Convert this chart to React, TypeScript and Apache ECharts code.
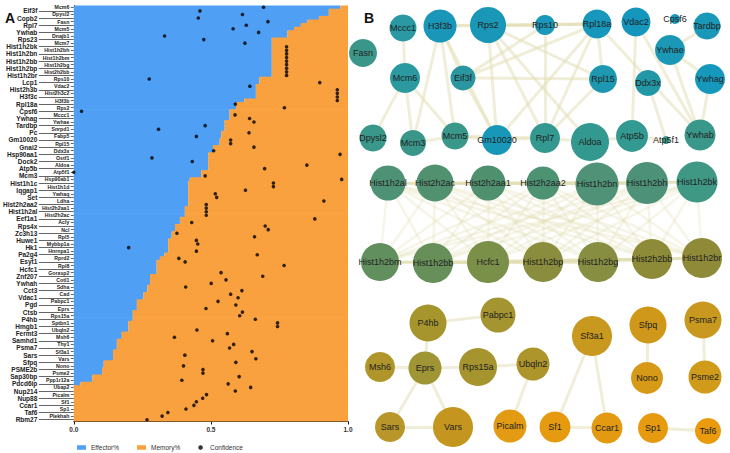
import React, { useEffect, useRef } from 'react';
import * as echarts from 'echarts';

// ---------- Panel A data ----------
// genes on the right label column (even rows, from top)
const rightColGenes = [
  'Mcm6', 'Dpysl2', 'Fasn', 'Mcm5', 'Dnajb1', 'Mcm7', 'Hist1h2bh', 'Hist1h2bm', 'Hist1h2bg', 'Hist2h2bb',
  'Rps10', 'Vdac2', 'Hist2h3c2', 'H3f3b', 'Rps2', 'Mccc1', 'Ywhae', 'Snrpd1', 'Fabp5', 'Rpl15',
  'Ddx3x', 'Ostf1', 'Aldoa', 'Atp5f1', 'Hsp90ab1', 'Hist1h1d', 'Ywhaq', 'Ldha', 'Hist2h2aa1', 'Hist2h2ac',
  'Acly', 'Ncl', 'Rpl5', 'Mybbp1a', 'Hnrnpa1', 'Rprd2', 'Rpl8', 'Gorasp2', 'Cotl1', 'Sdha',
  'Cad', 'Pabpc1', 'Eprs', 'Rps15a', 'Sptbn1', 'Ubqln2', 'Msh6', 'Thy1', 'Sf3a1', 'Vars',
  'Nono', 'Psme2', 'Ppp1r12a', 'Ubap2', 'Picalm', 'Sf1', 'Sp1', 'Plekhah',
];
// genes on the left label column (odd rows, from top)
const leftColGenes = [
  'Eif3f', 'Copb2', 'Rpl7', 'Ywhab', 'Rps23', 'Hist1h2bk', 'Hist1h2bn', 'Hist1h2bb', 'Hist1h2bp', 'Hist1h2br',
  'Lcp1', 'Hist2h3b', 'H3f3c', 'Rpl18a', 'Cpsf6', 'Ywhag', 'Tardbp', 'Pc', 'Gm10020', 'Gnai2',
  'Hsp90aa1', 'Dock2', 'Atp5b', 'Mcm3', 'Hist1h1c', 'Iqgap1', 'Set', 'Hist2h2aa2', 'Hist1h2al', 'Eef1a1',
  'Rps4x', 'Zc3h13', 'Huwe1', 'Hk1', 'Pa2g4', 'Esyt1', 'Hcfc1', 'Znf207', 'Ywhah', 'Cct3',
  'Vdac1', 'Pgd', 'Ctsb', 'P4hb', 'Hmgb1', 'Fermt3', 'Samhd1', 'Psma7', 'Sars', 'Sfpq',
  'PSME2b', 'Sap30bp', 'Pdcd6ip', 'Nup214', 'Nup88', 'Ccar1', 'Taf6', 'Rbm27',
];
// Effector share per row (top to bottom)
const effectorShare = [
  0.972, 0.93, 0.93, 0.894, 0.852, 0.828, 0.803, 0.779, 0.779, 0.722,
  0.722, 0.722, 0.722, 0.722, 0.722, 0.722, 0.722, 0.722, 0.722, 0.722,
  0.677, 0.677, 0.664, 0.664, 0.664, 0.664, 0.622, 0.592, 0.592, 0.568,
  0.568, 0.568, 0.55, 0.55, 0.55, 0.538, 0.538, 0.532, 0.532, 0.508,
  0.508, 0.49, 0.49, 0.49, 0.49, 0.49, 0.465, 0.465, 0.423, 0.417,
  0.417, 0.417, 0.417, 0.417, 0.417, 0.417, 0.405, 0.405, 0.405, 0.387,
  0.387, 0.369, 0.369, 0.357, 0.357, 0.344, 0.344, 0.344, 0.344, 0.33,
  0.314, 0.302, 0.302, 0.302, 0.302, 0.278, 0.278, 0.278, 0.268, 0.268,
  0.254, 0.254, 0.23, 0.23, 0.23, 0.215, 0.215, 0.215, 0.199, 0.199,
  0.199, 0.175, 0.175, 0.157, 0.157, 0.157, 0.143, 0.143, 0.143, 0.109,
  0.109, 0.103, 0.103, 0.067, 0.067, 0.024, 0, 0, 0, 0,
  0, 0, 0, 0, 0, 0,
];
// Confidence per row (top to bottom); null = no dot
const confidenceScore: (number | null)[] = [
  0.692, 0.46, 0.615, 0.454, 0.708, 0.629, 0.581, 0.674, 0.331, 0.474,
  0.624, 0.776, 0.776, 0.776, 0.776, 0.776, 0.776, 0.776, 0.776, 0.776,
  0.275, 0.897, 0.642, 0.961, 0.961, 0.961, 0.961, 0.589, 0.768, 0.028,
  0.588, 0.641, 0.657, 0.479, 0.309, 0.639, 0.447, 0.572, 0.572, 0.657,
  0.51, 0.971, 0.285, 0.432, 0.85, 0.696, 0.0, 0.479, 0.977, 0.728,
  0.728, 0.626, 0.516, 0.521, 0.912, 0.483, 0.483, 0.483, 0.483, 0.879,
  0.43, 0.698, 0.709, 0.376, 0.659, 0.447, 0.452, 0.2, 0.447, 0.669,
  0.383, 0.406, 0.767, null, 0.537, 0.689, 0.555, 0.501, 0.408, 0.613,
  0.572, 0.599, 0.526, 0.591, 0.482, 0.615, 0.605, 0.662, 0.743, 0.743,
  0.449, 0.56, 0.367, 0.506, 0.583, 0.568, 0.65, 0.405, 0.664, 0.591,
  0.4, 0.471, 0.471, 0.603, 0.394, 0.563, 0.645, 0.589, 0.484, 0.47,
  0.447, 0.438, 0.409, 0.343, 0.322, 0.267,
];

// ---------- Panel B data ----------
const nodeNames = [
  'Mccc1', 'H3f3b', 'Rps2', 'Rps10', 'Rpl18a', 'Vdac2', 'Cpsf6', 'Tardbp',
  'Fasn', 'Ywhae', 'Mcm6', 'Eif3f', 'Rpl15', 'Ddx3x', 'Ywhag',
  'Dpysl2', 'Mcm3', 'Mcm5', 'Gm10020', 'Rpl7', 'Aldoa', 'Atp5b', 'Atp5f1', 'Ywhab',
  'Hist1h2al', 'Hist2h2ac', 'Hist2h2aa1', 'Hist2h2aa2', 'Hist1h2bn', 'Hist1h2bh', 'Hist1h2bk',
  'Hist1h2bm', 'Hist1h2bb', 'Hcfc1', 'Hist1h2bp', 'Hist1h2bg', 'Hist2h2bb', 'Hist1h2br',
  'P4hb', 'Pabpc1', 'Sf3a1', 'Sfpq', 'Psma7',
  'Msh6', 'Eprs', 'Rps15a', 'Ubqln2', 'Nono', 'Psme2',
  'Sars', 'Vars', 'Picalm', 'Sf1', 'Ccar1', 'Sp1', 'Taf6',
];
const nodeX = [
  403, 440, 488, 545, 597, 636, 675, 707,
  363, 670, 405, 463, 603, 648, 710,
  373, 413, 455, 497, 545, 590, 632, 666, 700,
  388, 435, 488, 543, 597, 647, 697,
  380, 433, 488, 543, 598, 652, 702,
  428, 498, 592, 648, 703,
  380, 425, 478, 533, 647, 705,
  390, 453, 510, 555, 607, 653, 708,
];
const nodeY = [
  28, 26, 25, 25, 24, 22, 19, 26,
  53, 50, 78, 78, 79, 83, 79,
  138, 143, 136, 140, 138, 142, 136, 140, 135,
  183, 183, 183, 183, 184, 183, 182,
  262, 263, 262, 262, 262, 259, 258,
  323, 315, 336, 325, 320,
  367, 368, 367, 364, 378, 377,
  427, 427, 426, 427, 428, 428, 431,
];
const nodeSize = [
  27, 33, 36, 20, 29, 29, 10, 27,
  28, 30, 30, 25, 28, 26, 30,
  27, 26, 27, 30, 30, 38, 32, 8, 31,
  35, 37, 35, 33, 43, 42, 41,
  38, 40, 42, 40, 40, 40, 40,
  37, 35, 40, 37, 37,
  30, 33, 38, 33, 32, 33,
  30, 40, 33, 31, 31, 30, 26,
];
const nodeColor = [
  '#2a99a3', '#1a96b8', '#1a96b6', '#1a98bc', '#1797bb', '#1496bd', '#1a96b8', '#1a98b8',
  '#3a9689', '#1b98b6', '#2a99a0', '#2a97a0', '#1d98b0', '#2297a6', '#1598bc',
  '#399889', '#3a9689', '#3a988a', '#1897b8', '#339890', '#339890', '#329a90', '#3a988a', '#3a988a',
  '#4e9275', '#52916f', '#4f906f', '#4e9274', '#4f9277', '#4d9278', '#3f9884',
  '#628f5e', '#668f5a', '#7a8f48', '#8a8d3e', '#878e42', '#8e8b38', '#8f8a38',
  '#a5952c', '#a49531', '#c8981f', '#cf981a', '#c9981e',
  '#b0962a', '#a09534', '#a6942f', '#ad942b', '#d69918', '#d09a1b',
  '#b8962a', '#c5961f', '#e29b13', '#e69a10', '#e49a10', '#e69a10', '#ea9a0d',
];
const histoneNodes = [
  'Hist1h2al', 'Hist2h2ac', 'Hist2h2aa1', 'Hist2h2aa2', 'Hist1h2bn', 'Hist1h2bh', 'Hist1h2bk',
  'Hist1h2bm', 'Hist1h2bb', 'Hcfc1', 'Hist1h2bp', 'Hist1h2bg', 'Hist2h2bb', 'Hist1h2br',
];
const otherLinks: [string, string][] = [
  ['H3f3b', 'Rps2'], ['Rps2', 'Rps10'], ['Rps10', 'Rpl18a'], ['Rps2', 'Rpl18a'], ['H3f3b', 'Rpl18a'],
  ['H3f3b', 'Mcm5'], ['H3f3b', 'Mcm3'], ['H3f3b', 'Eif3f'], ['H3f3b', 'Gm10020'],
  ['Mccc1', 'Mcm6'], ['Mcm6', 'Dpysl2'], ['Mcm6', 'Mcm3'], ['Mcm6', 'Mcm5'], ['Mcm3', 'Mcm5'],
  ['Mcm5', 'Gm10020'], ['Eif3f', 'Gm10020'], ['Eif3f', 'Rpl15'], ['Eif3f', 'Rpl18a'], ['Eif3f', 'Rps10'],
  ['Rps2', 'Gm10020'], ['Rps2', 'Rpl7'], ['Rps2', 'Rpl15'], ['Rps2', 'Aldoa'], ['Rps10', 'Rpl7'],
  ['Rpl18a', 'Rpl15'], ['Rpl18a', 'Rpl7'], ['Rpl18a', 'Gm10020'], ['Rpl15', 'Rpl7'], ['Gm10020', 'Rpl7'],
  ['Rpl7', 'Aldoa'], ['Aldoa', 'Atp5b'], ['Vdac2', 'Atp5b'], ['Vdac2', 'Ywhab'], ['Atp5b', 'Atp5f1'],
  ['Ddx3x', 'Atp5f1'], ['Ywhae', 'Ywhag'], ['Ywhae', 'Ywhab'], ['Ywhag', 'Ywhab'], ['Tardbp', 'Ywhae'],
  ['Rpl18a', 'Ywhab'], ['Mcm5', 'Rpl7'],
  ['P4hb', 'Pabpc1'], ['P4hb', 'Eprs'], ['Msh6', 'Eprs'], ['Eprs', 'Rps15a'], ['Rps15a', 'Ubqln2'],
  ['Eprs', 'Sars'], ['Eprs', 'Vars'], ['Sars', 'Vars'], ['Ubqln2', 'Picalm'],
  ['Sf3a1', 'Sf1'], ['Sf3a1', 'Ccar1'], ['Sf1', 'Ccar1'], ['Sfpq', 'Nono'], ['Psma7', 'Psme2'], ['Sp1', 'Taf6'],
];

export default function App() {
  const ref = useRef<HTMLDivElement>(null);
  useEffect(() => {
    if (!ref.current) return;
    const chart = echarts.init(ref.current, null, { renderer: 'svg' });

    const genes: string[] = [];
    rightColGenes.forEach((g, k) => {
      genes.push(g);
      genes.push(leftColGenes[k]);
    });
    // Memory% is the complement of Effector% in each row
    const memoryShare = effectorShare.map((v) => +(1 - v).toFixed(3));
    const dots: [number, string][] = [];
    confidenceScore.forEach((v, i) => {
      if (v !== null) dots.push([v, genes[i]]);
    });

    const minX = Math.min(...nodeX);
    const maxX = Math.max(...nodeX);
    const minY = Math.min(...nodeY);
    const maxY = Math.max(...nodeY);

    const nodes = nodeNames.map((n, i) => ({
      name: n,
      x: nodeX[i],
      y: nodeY[i],
      symbolSize: nodeSize[i],
      itemStyle: { color: nodeColor[i] },
    }));
    const links: any[] = [];
    for (let a = 0; a < histoneNodes.length; a++) {
      for (let b = a + 1; b < histoneNodes.length; b++) {
        links.push({
          source: histoneNodes[a],
          target: histoneNodes[b],
          lineStyle: { width: 2.5, opacity: 0.3 },
        });
      }
    }
    otherLinks.forEach(([s, t]) => links.push({ source: s, target: t }));

    const font = 'Liberation Sans, Arial, sans-serif';

    const option: any = {
      animation: false,
      backgroundColor: '#ffffff',
      textStyle: { fontFamily: font },
      grid: { left: 73, top: 5.5, width: 275, height: 416, containLabel: false },
      xAxis: {
        type: 'value',
        min: 0,
        max: 1,
        interval: 0.5,
        axisLine: { show: true, lineStyle: { color: '#111', width: 1 } },
        axisTick: { show: true, length: 3, lineStyle: { color: '#111' } },
        splitLine: { show: false },
        axisLabel: {
          fontSize: 6.5,
          fontWeight: 'bold',
          color: '#333',
          margin: 4,
          formatter: (v: number) => v.toFixed(1),
        },
      },
      yAxis: [
        {
          type: 'category',
          data: genes,
          inverse: true,
          position: 'left',
          axisLine: { show: true, lineStyle: { color: '#111', width: 1 } },
          axisTick: {
            show: true,
            alignWithLabel: true,
            length: 3,
            interval: (i: number) => i % 2 === 0,
            lineStyle: { color: '#222', width: 0.7 },
          },
          axisLabel: {
            interval: (i: number) => i % 2 === 0,
            fontSize: 5.2,
            fontWeight: 'bold',
            color: '#222',
            margin: 4.5,
          },
        },
        {
          type: 'category',
          data: genes,
          inverse: true,
          position: 'left',
          offset: 0,
          axisLine: { show: false },
          axisTick: {
            show: true,
            alignWithLabel: true,
            length: 35,
            interval: (i: number) => i % 2 === 1,
            lineStyle: { color: '#222', width: 0.7 },
          },
          axisLabel: {
            interval: (i: number) => i % 2 === 1,
            fontSize: 6.5,
            fontWeight: 'bold',
            color: '#222',
            margin: 36.5,
          },
        },
      ],
      legend: {
        left: 72,
        top: 439,
        itemWidth: 9,
        itemHeight: 4.5,
        itemGap: 18,
        textStyle: { fontSize: 6.5, color: '#333', fontFamily: font },
        data: [
          { name: 'Effector%', icon: 'rect' },
          { name: 'Memory%', icon: 'rect' },
          { name: 'Confidence', icon: 'circle' },
        ],
      },
      graphic: [
        { type: 'text', left: 5, top: 11, style: { text: 'A', fontSize: 14, fontWeight: 'bold', fill: '#111', fontFamily: font } },
        { type: 'text', left: 364, top: 11, style: { text: 'B', fontSize: 14, fontWeight: 'bold', fill: '#111', fontFamily: font } },
      ],
      series: [
        {
          name: 'Effector%',
          type: 'bar',
          stack: 'share',
          data: effectorShare,
          barWidth: 4.3,
          itemStyle: { color: '#4f9ff5' },
          silent: true,
        },
        {
          name: 'Memory%',
          type: 'bar',
          stack: 'share',
          data: memoryShare,
          barWidth: 4.3,
          itemStyle: { color: '#f9a13f' },
          silent: true,
        },
        {
          name: 'Confidence',
          type: 'scatter',
          data: dots,
          symbolSize: 3.6,
          symbolKeepAspect: true,
          itemStyle: { color: '#000' },
          z: 5,
          silent: true,
        },
        {
          type: 'graph',
          layout: 'none',
          left: minX,
          top: minY,
          width: maxX - minX,
          height: maxY - minY,
          roam: false,
          silent: true,
          data: nodes,
          links,
          label: { show: true, position: 'inside', fontSize: 9, color: '#222', fontFamily: font },
          lineStyle: { color: '#e2deb2', width: 3, opacity: 0.5, curveness: 0 },
          emphasis: { disabled: true },
          z: 3,
        },
      ],
    };
    chart.setOption(option);
    return () => chart.dispose();
  }, []);
  return (
    <div
      ref={ref}
      style={{ position: 'fixed', left: 0, top: 0, width: 730, height: 453, background: '#fff' }}
    />
  );
}
